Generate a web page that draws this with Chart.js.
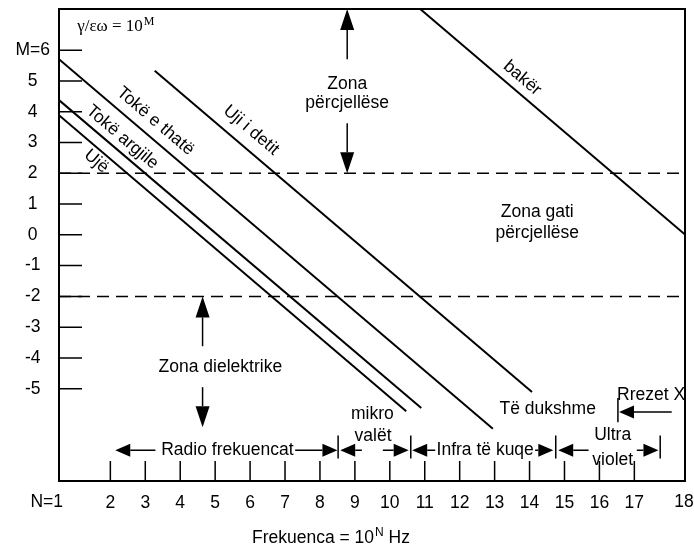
<!DOCTYPE html>
<html lang="sq">
<head>
<meta charset="UTF-8">
<title>Zonat e percjellshmerise</title>
<script src="https://cdn.jsdelivr.net/npm/chart.js@4.4.1/dist/chart.umd.min.js"></script>
<style>
  html, body { margin: 0; padding: 0; background: #fff; }
  #wrap { width: 694px; height: 547px; }
</style>
</head>
<body>
<div id="wrap"><canvas id="chart" width="694" height="547"></canvas></div>
<script>
// N = log10(frekuenca), M = log10(gamma / (epsilon * omega))
const xMin = 0.53, xMax = 18.45;
const yMin = -8, yMax = 7.34;
const xTicks = [2, 3, 4, 5, 6, 7, 8, 9, 10, 11, 12, 13, 14, 15, 16, 17];
const yTicks = [6, 5, 4, 3, 2, 1, 0, -1, -2, -3, -4, -5];

// materials: each one is a straight line from (startN, startM) to (endN, endM)
const materials = ['Tokë e thatë', 'Tokë argjile', 'Ujë', 'Uji i detit', 'bakër'];
const startN = [0.53, 0.53, 0.53, 3.27, 10.87];
const startM = [5.71, 4.38, 3.89, 5.33, 7.34];
const endN = [12.95, 10.90, 10.47, 14.07, 18.45];
const endM = [-6.30, -5.63, -5.73, -5.11, 0.01];

// limits between the zones
const zoneLimits = [2, -2];

// where the annotations sit, in (N, M)
const lineLabels = [[3.29, 3.69], [2.34, 3.17], [1.60, 2.39], [6.03, 3.40], [13.79, 5.09]];
const texts = [
  ['Zona', 8.78, 4.90], ['përcjellëse', 8.78, 4.28],
  ['Zona gati', 14.22, 0.73], ['përcjellëse', 14.22, 0.05],
  ['Zona dielektrike', 5.15, -4.30],
  ['Radio frekuencat', 5.35, -7.0],
  ['mikro', 9.50, -5.83], ['valët', 9.52, -6.55],
  ['Infra të kuqe', 12.73, -7.0],
  ['Ultra', 16.38, -6.52], ['violet', 16.38, -7.31],
  ['Të dukshme', 14.52, -5.65],
  ['Rrezet X', 17.48, -5.22]
];
// zone arrows [n, fromM, toM]
const zoneArrows = [[8.78, 5.71, 7.34], [8.78, 3.63, 2], [4.64, -3.62, -2], [4.64, -4.95, -6.25]];
// band arrows [fromN, toN, m]
const bandArrows = [
  [3.29, 2.14, -7], [7.29, 8.50, -7], [9.20, 8.58, -7], [9.80, 10.54, -7],
  [11.30, 10.64, -7], [14.16, 14.68, -7], [15.69, 14.82, -7], [17.07, 17.69, -7],
  [18.07, 16.56, -5.76]
];
// band separators [n, topM, bottomM]
const bandBars = [[8.52, -6.52, -7.27], [10.60, -6.52, -7.27], [14.75, -6.52, -7.27],
  [17.74, -6.52, -7.27], [16.53, -5.3, -6.09]];

const FONT = '"Liberation Sans", Arial, sans-serif';
const SERIF = '"Liberation Serif", "Times New Roman", serif';
Chart.defaults.font.family = FONT;
Chart.defaults.font.size = 17.5;
Chart.defaults.color = '#000';

function arrow(ctx, x1, y1, x2, y2, len, w) {
  const a = Math.atan2(y2 - y1, x2 - x1);
  const bx = x2 - len * Math.cos(a), by = y2 - len * Math.sin(a);
  ctx.beginPath(); ctx.moveTo(x1, y1); ctx.lineTo(bx, by); ctx.stroke();
  ctx.beginPath();
  ctx.moveTo(x2, y2);
  ctx.lineTo(bx + w / 2 * Math.sin(a), by - w / 2 * Math.cos(a));
  ctx.lineTo(bx - w / 2 * Math.sin(a), by + w / 2 * Math.cos(a));
  ctx.closePath(); ctx.fill();
}

// text followed by a small raised exponent
function powerText(ctx, base, exp, x, y, font, size) {
  ctx.font = size + 'px ' + font;
  const w = ctx.measureText(base).width;
  ctx.fillText(base, x, y);
  ctx.font = Math.round(size * 0.68) + 'px ' + font;
  ctx.fillText(exp, x + w + 1, y - size * 0.38);
  return w + 1 + ctx.measureText(exp).width;
}

const overlay = {
  id: 'overlay',
  afterDatasetsDraw(chart) {
    const { ctx, chartArea: a, scales: { x, y } } = chart;
    const px = n => x.getPixelForValue(n), py = m => y.getPixelForValue(m);
    ctx.save();
    ctx.strokeStyle = '#000'; ctx.fillStyle = '#000';

    // frame and inner tick marks
    ctx.lineWidth = 2;
    ctx.strokeRect(a.left, a.top, a.width, a.height);
    ctx.lineWidth = 1.5;
    ctx.beginPath();
    yTicks.forEach(m => { ctx.moveTo(a.left, py(m)); ctx.lineTo(a.left + 23, py(m)); });
    xTicks.forEach(n => { ctx.moveTo(px(n), a.bottom); ctx.lineTo(px(n), a.bottom - 20); });
    bandBars.forEach(b => { ctx.moveTo(px(b[0]), py(b[1])); ctx.lineTo(px(b[0]), py(b[2])); });
    ctx.stroke();

    zoneArrows.forEach(z => arrow(ctx, px(z[0]), py(z[1]), px(z[0]), py(z[2]), 21, 14));
    bandArrows.forEach(b => arrow(ctx, px(b[0]), py(b[2]), px(b[1]), py(b[2]), 15, 13));

    ctx.font = '17.5px ' + FONT;
    ctx.textAlign = 'center'; ctx.textBaseline = 'middle';
    texts.forEach(t => ctx.fillText(t[0], px(t[1]), py(t[2])));

    // labels along the material lines
    materials.forEach((name, i) => {
      const ang = Math.atan2(py(endM[i]) - py(startM[i]), px(endN[i]) - px(startN[i]));
      ctx.save();
      ctx.translate(px(lineLabels[i][0]), py(lineLabels[i][1]));
      ctx.rotate(ang);
      ctx.fillText(name, 0, 0);
      ctx.restore();
    });

    // axis end labels
    ctx.textAlign = 'right';
    ctx.fillText('N=1', a.left + 4, a.bottom + 21);
    ctx.textAlign = 'center';
    ctx.fillText('18', a.right - 1, a.bottom + 21);

    // axis title
    ctx.textAlign = 'left'; ctx.textBaseline = 'alphabetic';
    const sx = 252, sy = a.bottom + 62;
    const wp = powerText(ctx, 'Frekuenca = 10', 'N', sx, sy, FONT, 17.5);
    ctx.font = '17.5px ' + FONT;
    ctx.fillText(' Hz', sx + wp, sy);

    // formula in the corner
    powerText(ctx, 'γ/εω = 10', 'M', px(1.05), py(6.82) + 6, SERIF, 17);
    ctx.restore();
  }
};

const datasets = materials.map((name, i) => ({
  label: name,
  data: [{ x: startN[i], y: startM[i] }, { x: endN[i], y: endM[i] }],
  borderColor: '#000', borderWidth: 2, pointRadius: 0, showLine: true
}));
zoneLimits.forEach(m => datasets.push({
  label: 'M=' + m,
  data: [{ x: xMin, y: m }, { x: xMax, y: m }],
  borderColor: '#000', borderWidth: 1.5, borderDash: [12, 7], pointRadius: 0, showLine: true
}));

function noPad(s) { s.paddingTop = 0; s.paddingBottom = 0; s.paddingLeft = 0; s.paddingRight = 0; }

new Chart(document.getElementById('chart'), {
  type: 'scatter',
  data: { datasets },
  options: {
    responsive: false,
    animation: false,
    devicePixelRatio: 1,
    layout: { padding: { top: 9, right: 9, left: 0, bottom: 0 } },
    plugins: { legend: { display: false }, tooltip: { enabled: false } },
    scales: {
      x: {
        type: 'linear', min: xMin, max: xMax,
        grid: { display: false, drawTicks: false },
        border: { display: false },
        afterBuildTicks: s => { s.ticks = xTicks.map(v => ({ value: v })); },
        afterFit: s => { s.height = 66; noPad(s); },
        ticks: { padding: 12, maxRotation: 0, autoSkip: false, callback: v => String(v) }
      },
      y: {
        type: 'linear', min: yMin, max: yMax,
        grid: { display: false, drawTicks: false },
        border: { display: false },
        afterBuildTicks: s => { s.ticks = yTicks.map(v => ({ value: v })); },
        afterFit: s => { s.width = 59; noPad(s); },
        ticks: { padding: 9, crossAlign: 'center', autoSkip: false,
          callback: v => (v === 6 ? 'M=6' : String(v)) }
      }
    }
  },
  plugins: [overlay]
});
</script>
</body>
</html>
